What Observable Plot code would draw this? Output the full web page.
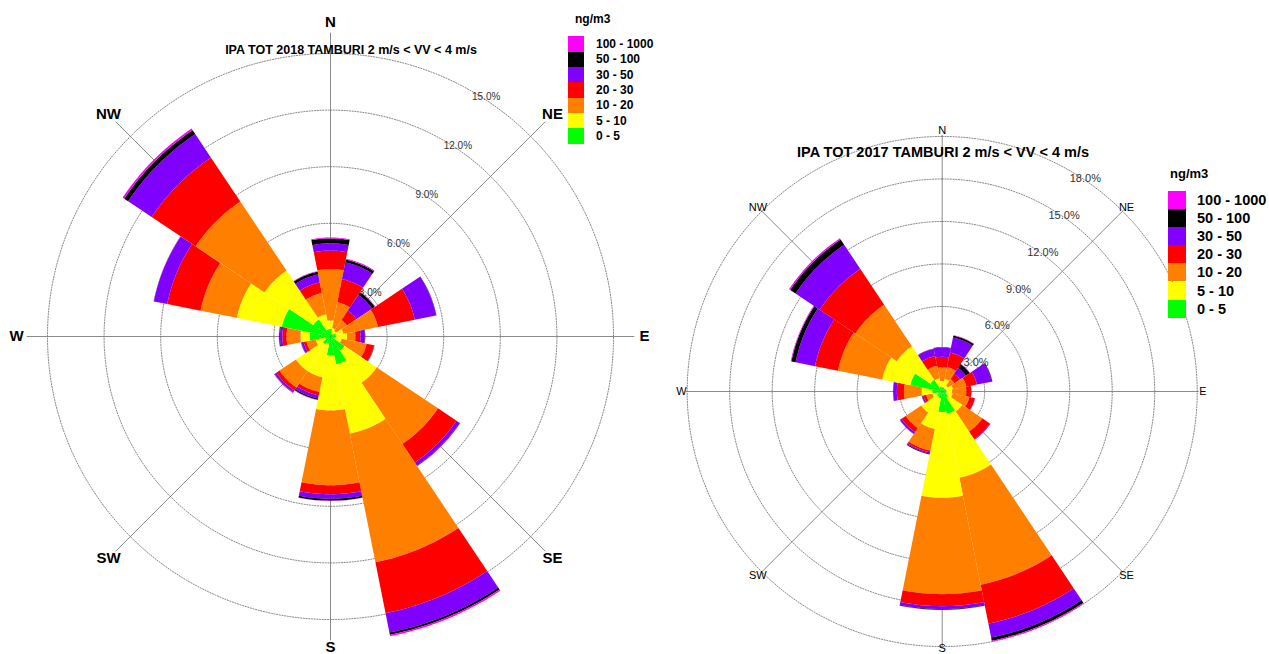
<!DOCTYPE html>
<html><head><meta charset="utf-8">
<script src="https://cdn.jsdelivr.net/npm/d3@7"></script>
<script src="https://cdn.jsdelivr.net/npm/@observablehq/plot@0.6"></script>
<style>
body{margin:0;background:#fff;font-family:"Liberation Sans",Arial,sans-serif;}
#wrap{position:relative;width:1269px;height:654px;overflow:hidden;background:#fff;}
.abs{position:absolute;white-space:nowrap;line-height:1;}
.vc{transform:translateY(-50%);}
.hc{transform:translate(-50%,-50%);}
</style></head><body><div id="wrap"></div>
<script>
// ---------- data ----------
const directions = ["N","NNE","NE","ENE","E","ESE","SE","SSE","S","SSW","SW","WSW","W","WNW","NW","NNW"];
const bins = ["0 - 5","5 - 10","10 - 20","20 - 30","30 - 50","50 - 100","100 - 1000"];
const binColors = ["#00ff00","#ffff00","#ff8000","#ff0000","#8000ff","#000000","#ff00ff"];
const compassLabels = ["N","NE","E","SE","S","SW","W","NW"];
const compassBearings = [0,45,90,135,180,225,270,315];

// IPA TOT 2018 (frequency %, per concentration bin, by direction N..NNW)
const f2018_0_5    = [0.40,0.15,0.15,0.30,0.30,0.25,0.90,1.50,1.00,0.40,0.50,0.30,1.10,2.63,1.10,0.40];
const f2018_5_10   = [0.45,0.30,0.20,0.40,0.58,0.35,2.05,3.75,2.92,1.80,1.70,0.50,0.49,2.43,3.10,0.80];
const f2018_10_20  = [2.73,1.40,0.70,1.86,0.44,1.35,3.90,6.95,3.96,0.80,1.05,0.50,0.74,1.96,4.40,1.15];
const f2018_20_30  = [0.97,1.25,0.60,1.99,0.27,0.40,1.18,2.75,0.48,0.18,0.20,0.15,0.22,1.80,2.80,0.57];
const f2018_30_50  = [0.39,0.90,1.00,1.15,0.23,0.02,0.19,1.05,0.24,0.17,0.10,0.10,0.13,0.72,1.50,0.43];
const f2018_50_100 = [0.26,0.15,0.17,0.02,0.02,0.01,0.03,0.12,0.10,0.07,0.02,0.03,0.04,0.01,0.25,0.15];
const f2018_100_1000=[0.05,0.05,0.03,0.01,0.01,0.00,0.02,0.08,0.02,0.02,0.03,0.02,0.02,0.01,0.10,0.03];
const ticks2018 = [3,6,9,12,15];

// IPA TOT 2017
const f2017_0_5    = [0.30,0.30,0.25,0.30,0.30,0.30,0.50,1.60,1.45,0.50,0.45,0.30,0.70,2.29,1.00,0.35];
const f2017_5_10   = [0.45,0.60,0.25,0.47,0.40,0.45,1.20,4.60,6.05,2.20,1.33,0.40,0.75,2.03,2.85,0.60];
const f2017_10_20  = [0.95,0.85,0.55,0.96,1.00,1.20,1.70,7.70,6.80,1.55,1.32,0.45,1.25,3.18,3.52,0.90];
const f2017_20_30  = [0.75,1.05,0.45,0.77,0.35,0.40,0.65,2.80,0.85,0.13,0.35,0.20,0.50,1.65,3.03,0.70];
const f2017_30_50  = [0.65,1.08,0.50,1.05,0.02,0.02,0.05,1.00,0.20,0.09,0.13,0.10,0.25,1.40,2.05,0.50];
const f2017_50_100 = [0.03,0.14,0.33,0.05,0.00,0.00,0.00,0.23,0.05,0.05,0.02,0.02,0.02,0.30,0.45,0.03];
const f2017_100_1000=[0.01,0.03,0.03,0.02,0.00,0.00,0.00,0.07,0.02,0.01,0.02,0.01,0.01,0.05,0.10,0.02];
const ticks2017 = [3,6,9,12,15,18];

const series2018 = [f2018_0_5,f2018_5_10,f2018_10_20,f2018_20_30,f2018_30_50,f2018_50_100,f2018_100_1000];
const series2017 = [f2017_0_5,f2017_5_10,f2017_10_20,f2017_20_30,f2017_30_50,f2017_50_100,f2017_100_1000];

// ---------- helpers ----------
const rad = d => d * Math.PI / 180;
function wedgePoints(series){
  const pts = [];
  const half = 360 / directions.length / 2;
  directions.forEach((d, i) => {
    let r0 = 0;
    series.forEach((vals, j) => {
      const v = vals[i];
      if (!(v > 0)) return;
      const r1 = r0 + v, b = i * 360 / directions.length;
      const a0 = rad(b - half), a1 = rad(b + half), n = 16, id = d + "-" + j;
      for (let s = 0; s <= n; s++) { const a = a0 + (a1 - a0) * s / n; pts.push({id, bin: bins[j], x: r1 * Math.sin(a), y: r1 * Math.cos(a)}); }
      if (r0 > 0) for (let s = n; s >= 0; s--) { const a = a0 + (a1 - a0) * s / n; pts.push({id, bin: bins[j], x: r0 * Math.sin(a), y: r0 * Math.cos(a)}); }
      else pts.push({id, bin: bins[j], x: 0, y: 0});
      r0 = r1;
    });
  });
  return pts;
}
function circlePoints(ticks){
  const pts = [];
  ticks.forEach(t => { for (let s = 0; s <= 360; s += 2) pts.push({r: t, x: t * Math.sin(rad(s)), y: t * Math.cos(rad(s))}); });
  return pts;
}

function rose(opt){
  const {series, ticks, width, height, cx, cy, k, lineR, labelR, southR, compassSize, compassWeight, tickSize, tickDy} = opt;
  const axes = [0, 45, 90, 135].map(b => ({b}));
  const comp = compassLabels.map((l, i) => ({l, b: compassBearings[i], r: compassBearings[i] === 180 ? southR : labelR}));
  return Plot.plot({
    width, height, margin: 0,
    x: {domain: [-cx / k, (width - cx) / k], axis: null},
    y: {domain: [-(height - cy) / k, cy / k], axis: null},
    color: {domain: bins, range: binColors},
    style: {background: "transparent", fontFamily: '"Liberation Sans", Arial, sans-serif', overflow: "visible"},
    marks: [
      Plot.line(circlePoints(ticks), {x: "x", y: "y", z: "r", stroke: "#7a7a7a", strokeWidth: 0.9, strokeDasharray: "1.2,1.5"}),
      Plot.link(axes, {x1: d => lineR * Math.sin(rad(d.b)), y1: d => lineR * Math.cos(rad(d.b)),
                       x2: d => -lineR * Math.sin(rad(d.b)), y2: d => -lineR * Math.cos(rad(d.b)),
                       stroke: "#6e6e6e", strokeWidth: 0.8}),
      Plot.text(ticks, {x: t => t * Math.sin(rad(30)), y: t => t * Math.cos(rad(30)), text: t => t.toFixed(1) + "%",
                        textAnchor: "start", dy: tickDy, fontSize: tickSize, fill: "#333"}),
      Plot.line(wedgePoints(series), {x: "x", y: "y", z: "id", fill: "bin", stroke: "none", curve: "linear"}),
      Plot.text(comp, {x: d => d.r * Math.sin(rad(d.b)), y: d => d.r * Math.cos(rad(d.b)), text: "l",
                       fontSize: compassSize, fontWeight: compassWeight, fill: "#000"})
    ]
  });
}

const wrap = document.getElementById("wrap");
function place(el, left, top){ el.style.position = "absolute"; el.style.left = left + "px"; el.style.top = top + "px"; wrap.appendChild(el); }
function label(text, x, y, size, weight, cls){
  const d = document.createElement("div");
  d.className = "abs " + cls; d.textContent = text;
  d.style.left = x + "px"; d.style.top = y + "px"; d.style.fontSize = size + "px"; d.style.fontWeight = weight;
  wrap.appendChild(d);
}
function legend(x, y0, step, boxW, boxH, textX, size, titleX, titleY, titleSize){
  label("ng/m3", titleX, titleY, titleSize, "bold", "vc");
  const order = bins.map((b, j) => j).reverse();
  order.forEach((j, i) => {
    const cy = y0 + i * step;
    const box = document.createElement("div");
    box.className = "abs";
    box.style.left = x + "px"; box.style.top = (cy - boxH / 2) + "px";
    box.style.width = boxW + "px"; box.style.height = boxH + "px"; box.style.background = binColors[j];
    wrap.appendChild(box);
    label(bins[j], textX, cy, size, "bold", "vc");
  });
}

// left chart (2018)
const left = rose({series: series2018, ticks: ticks2018, width: 665, height: 654, cx: 330, cy: 336, k: 18.87,
  lineR: 16.1, labelR: 16.64, southR: 16.45, compassSize: 15, compassWeight: "bold", tickSize: 10, tickDy: 5});
place(left, 0, 0);
// right chart (2017)
const right = rose({series: series2017, ticks: ticks2017, width: 604, height: 654, cx: 276.7, cy: 391, k: 14.17,
  lineR: 18.1, labelR: 18.4, southR: 18.1, compassSize: 11, compassWeight: "normal", tickSize: 11, tickDy: 8});
place(right, 665, 0);

label("IPA TOT 2018 TAMBURI 2 m/s < VV < 4 m/s", 351, 50, 12.5, "bold", "hc");
label("IPA TOT 2017 TAMBURI 2 m/s < VV < 4 m/s", 943, 152, 14.5, "bold", "hc");
legend(568, 44, 15.33, 16, 15.3, 596, 12, 575, 19, 12);
legend(1168, 199.5, 18.2, 18, 18, 1197, 14.5, 1170, 173, 13);
</script></body></html>
